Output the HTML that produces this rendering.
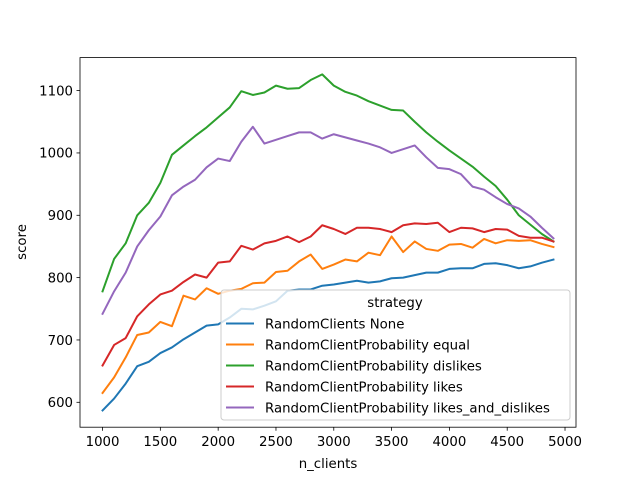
<!DOCTYPE html>
<html><head><meta charset="utf-8"><style>
body{margin:0;background:#fff}
svg{display:block;font-family:"DejaVu Sans","Liberation Sans",sans-serif}
</style></head><body>
<svg id="chart" width="640" height="480">
<rect x="0" y="0" width="640" height="480" fill="#fff"/>
<g id="plot"></g>
<rect x="80" y="57.6" width="496" height="369.6" fill="none" stroke="#000" stroke-width="0.8"/>
<g id="xt"></g><g id="yt"></g>
<text x="328" y="468" text-anchor="middle" font-size="13.3">n_clients</text>
<text transform="translate(26,242) rotate(-90)" text-anchor="middle" font-size="13.3">score</text>
<g id="legend"></g>
</svg>
<script>
const xs=[];for(let v=1000;v<=4900;v+=100)xs.push(v);
const seriesNames=["RandomClients None","RandomClientProbability equal","RandomClientProbability dislikes","RandomClientProbability likes","RandomClientProbability likes_and_dislikes"];
const colors=["#1f77b4","#ff7f0e","#2ca02c","#d62728","#9467bd"];
const blue=[587,606,630,658,665,679,688,701,712,723,725,736,750,749,755,762,779,781,781,787,789,792,795,792,794,799,800,804,808,808,814,815,815,822,823,820,815,818,824,829];
const orange=[615,640,672,708,712,729,722,771,765,783,774,779,782,791,792,809,811,826,837,814,821,829,826,840,836,866,841,858,846,843,853,854,848,862,855,860,859,860,854,849];
const green=[778,830,855,900,920,952,997,1012,1027,1041,1057,1073,1099,1093,1097,1108,1103,1104,1117,1126,1108,1098,1092,1083,1076,1069,1068,1050,1033,1018,1004,991,978,962,947,925,900,885,870,858];
const red=[659,692,703,738,757,773,779,793,805,800,824,826,851,845,855,859,866,857,866,884,878,870,880,880,878,873,884,887,886,888,873,880,879,873,878,877,867,864,864,858];
const purple=[742,778,808,850,876,898,932,946,957,977,991,987,1018,1042,1015,1021,1027,1033,1033,1023,1030,1025,1020,1015,1009,1000,1006,1012,993,976,974,966,946,941,929,918,911,898,880,863];
const xTicks=[1000,1500,2000,2500,3000,3500,4000,4500,5000];
const yTicks=[600,700,800,900,1000,1100];
const all=[blue,orange,green,red,purple];
const ns="http://www.w3.org/2000/svg";
const xMin=805,xMax=5095;
let lo=Math.min(...all.flat()),hi=Math.max(...all.flat());const pad=(hi-lo)*0.05;const yMin=lo-pad,yMax=hi+pad;
const X=v=>80+(v-xMin)/(xMax-xMin)*496;
const Y=v=>427.2-(v-yMin)/(yMax-yMin)*369.6;
function mk(t,a,p){const e=document.createElementNS(ns,t);for(const k in a)e.setAttribute(k,a[k]);p.appendChild(e);return e;}
const plot=document.getElementById('plot');
all.forEach((s,i)=>{
 const pts=s.map((v,j)=>X(xs[j]).toFixed(2)+","+Y(v).toFixed(2)).join(" ");
 const pl=mk('polyline',{points:pts,fill:'none',stroke:colors[i],'stroke-width':2,'stroke-linejoin':'round','stroke-linecap':'square'},plot);
 
 
});
const xt=document.getElementById('xt');
xTicks.forEach(v=>{const x=X(v);
 const l=mk('line',{x1:x,x2:x,y1:427.2,y2:430.7,stroke:'#000','stroke-width':0.8},xt);
 
 const t=mk('text',{x:x,y:446,'text-anchor':'middle','font-size':13.3},xt);t.textContent=v;
 });
const yt=document.getElementById('yt');
yTicks.forEach(v=>{const y=Y(v);
 const l=mk('line',{x1:76.5,x2:80,y1:y,y2:y,stroke:'#000','stroke-width':0.8},yt);
 
 const t=mk('text',{x:73,y:y+4.8,'text-anchor':'end','font-size':13.3},yt);t.textContent=v;
 });
const lg=document.getElementById('legend');
const box=mk('rect',{x:221,y:290,width:349,height:130,rx:3,fill:'#fff','fill-opacity':0.8,stroke:'#ccc','stroke-width':1},lg);

const tt=mk('text',{x:395,y:307,'text-anchor':'middle','font-size':13.3},lg);tt.textContent='strategy';

seriesNames.forEach((n,i)=>{const y=323.5+i*21;
 const l=mk('line',{x1:226,x2:254,y1:y,y2:y,stroke:colors[i],'stroke-width':2},lg);
 
 const t=mk('text',{x:265,y:y+4.8,'font-size':13.3},lg);t.textContent=n;
 });
</script>
</body></html>
